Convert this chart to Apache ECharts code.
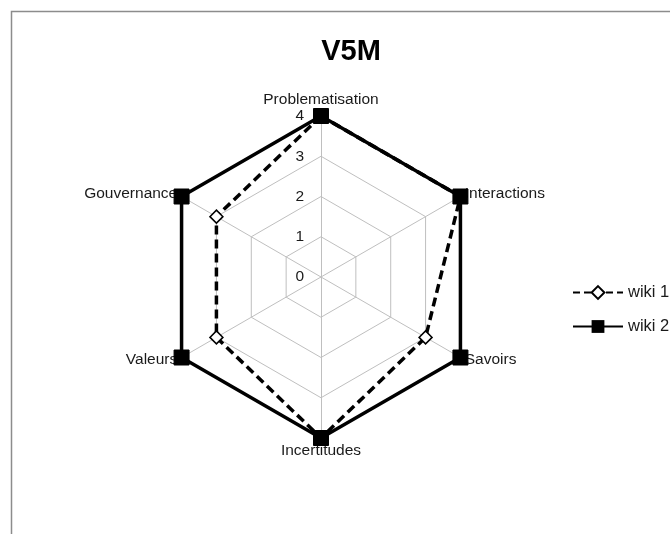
<!DOCTYPE html>
<html><head><meta charset="utf-8">
<script src="https://cdn.jsdelivr.net/npm/echarts@6/dist/echarts.min.js"></script>
<style>html,body{margin:0;padding:0;background:#fff}#c{width:670px;height:534px}</style>
</head><body><div id="c"></div>
<script>
// Clockwise order starting at the top
const indicators = ['Problematisation','Interactions','Savoirs','Incertitudes','Valeurs','Gouvernance'];
const wiki1 = [4,4,3,4,3,3];
const wiki2 = [4,4,4,4,4,4];
const seriesNames = ['wiki 1','wiki 2'];
const maxValue = 4;

// ECharts radar runs counter-clockwise: reorder so the picture goes clockwise
const order = indicators.map((_, i) => (indicators.length - i) % indicators.length);
const ccw = arr => order.map(i => arr[i]);

const chart = echarts.init(document.getElementById('c'));
const font = '"Liberation Sans", Arial, sans-serif';
chart.setOption({
  backgroundColor: '#fff',
  animation: false,
  title: { text: 'V5M', left: 346, top: 32, textAlign: 'center',
    textStyle: { fontFamily: font, fontSize: 29, fontWeight: 'bold', color: '#000' } },
  graphic: [{ type: 'rect', shape: { x: 11.5, y: 11.5, width: 700, height: 600 },
    style: { fill: 'none', stroke: '#8c8c8c', lineWidth: 1.5 }, silent: true }],
  legend: { orient: 'vertical', left: 567, top: 279, itemWidth: 50, itemHeight: 16, itemGap: 17,
    textStyle: { fontFamily: font, fontSize: 16.5, color: '#1a1a1a' }, data: seriesNames },
  grid: { left: 0, top: 0, width: 1, height: 1, show: false },
  xAxis: { show: false, type: 'category', data: [] },
  yAxis: { show: false, type: 'value' },
  radar: {
    center: [321, 277], radius: 161, startAngle: 90, shape: 'polygon',
    splitNumber: 4,
    indicator: ccw(indicators).map((n, i) => i === 0
      ? { name: n, min: 0, max: maxValue, axisLabel: { show: true, color: '#1a1a1a', fontSize: 15.5, fontFamily: font, margin: 17 } }
      : { name: n, min: 0, max: maxValue }),
    axisName: { color: '#1a1a1a', fontFamily: font, fontSize: 15.5 },
    nameGap: 5,
    axisLine: { lineStyle: { color: '#bfbfbf', width: 1 } },
    splitLine: { lineStyle: { color: '#bfbfbf', width: 1 } },
    splitArea: { show: false },
    axisLabel: { show: false }
  },
  series: [
    { type: 'line', name: seriesNames[0], data: [], symbol: 'diamond', symbolSize: 12,
      lineStyle: { color: '#000', width: 3.5, type: [7, 4] },
      itemStyle: { color: '#fff', borderColor: '#000', borderWidth: 1.2 } },
    { type: 'line', name: seriesNames[1], data: [], symbol: 'rect', symbolSize: 14,
      lineStyle: { color: '#000', width: 3.5, type: 'solid' },
      itemStyle: { color: '#000', borderColor: '#000' } },
    {
    type: 'radar', z: 3,
    data: [
      { name: seriesNames[0], value: ccw(wiki1), symbol: 'diamond', symbolSize: 13,
        lineStyle: { color: '#000', width: 3.5, type: [9, 5] },
        itemStyle: { color: '#fff', borderColor: '#000', borderWidth: 1.5 } },
      { name: seriesNames[1], value: ccw(wiki2), symbol: 'rect', symbolSize: 15,
        lineStyle: { color: '#000', width: 3.5, type: 'solid' },
        itemStyle: { color: '#000', borderColor: '#000' } }
    ]
  }]
});
</script></body></html>
